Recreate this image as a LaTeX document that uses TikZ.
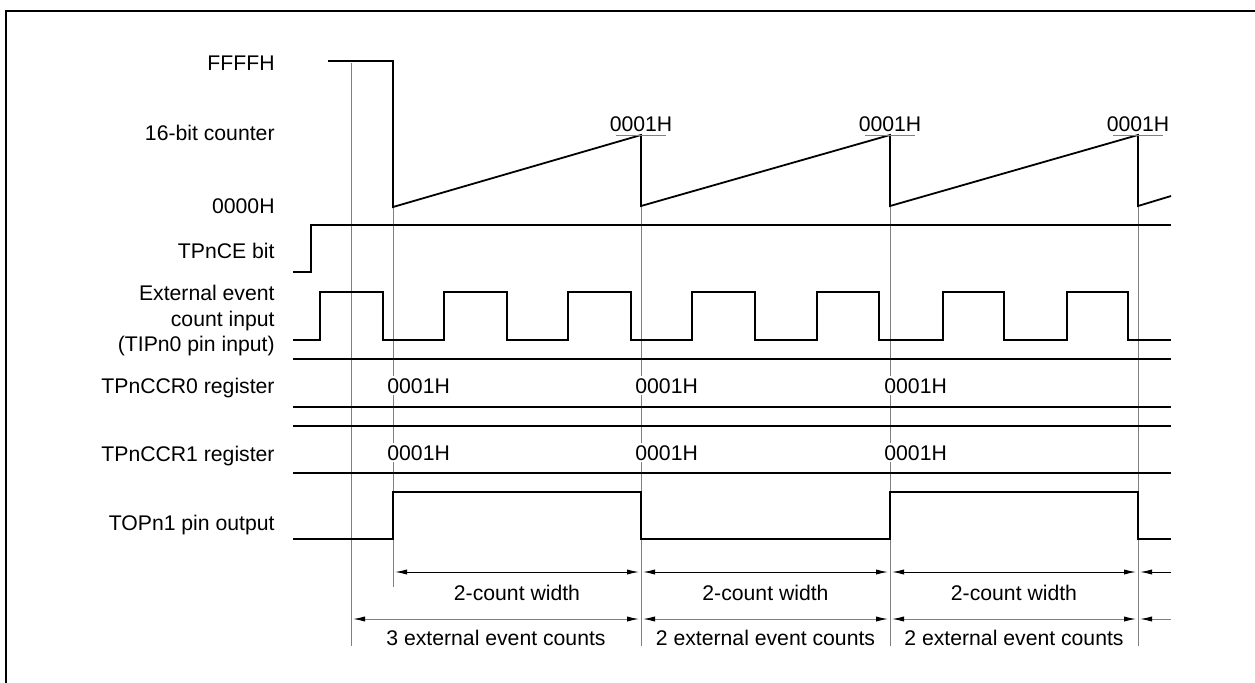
\documentclass[tikz,border=0pt]{standalone}
\usepackage{fontspec}
\setmainfont{Liberation Sans}
\usetikzlibrary{arrows.meta}
\begin{document}
\begin{tikzpicture}[x=0.5pt,y=-0.5pt,
  font=\fontsize{10.6}{12.75}\selectfont,
  sig/.style={line width=0.9pt},
  guide/.style={black!50,line width=0.5pt},
  lbl/.style={anchor=base east,inner sep=0pt},
  val/.style={anchor=base west,fill=white,inner sep=1pt},
  dim/.style={line width=0.5pt,{Latex[length=6pt,width=2.6pt,black]}-{Latex[length=6pt,width=2.6pt,black]}}]
\clip (0,0) rectangle (1255,682);
% frame
\draw[line width=1pt] (6,700) |- (1270,11);

% signal names
\node[lbl] (ffff) at (275,70) {FFFFH};
\node[lbl] (cnt) at (275,140) {16-bit counter};
\node[lbl] (zero) at (275,213) {0000H};
\node[lbl] (tpnce) at (275,258) {TPnCE bit};
\node[anchor=east,align=right,inner sep=0pt] (tipn) at (275,321)
  {External event\hspace{3.5pt}\\count input\\(TIPn0 pin input)};
\node[lbl] (ccr0) at (275,393) {TPnCCR0 register};
\node[lbl] (ccr1) at (275,461) {TPnCCR1 register};
\node[lbl] (topn) at (275,530) {TOPn1 pin output};

% timing guides
\draw[guide] (351,63) -- (351,646);
\draw[guide] (393,207) -- (393,587);
\foreach \x in {641,890,1138}
  \draw[guide] (\x,206) -- (\x,646);

% 16-bit counter
\draw[sig] (328,61) -- (393,61) -- (393,207) -- (641,135) -- (641,206)
  -- (890,135) -- (890,206) -- (1138,135) -- (1138,206) -- (1171,196);
\foreach \x/\n in {641/a,890/b,1138/c}{
  \node[anchor=base,inner sep=0pt] (peak\n) at (\x,131) {0001H};
  \draw[guide] (\x-25,135) -- (\x+25,135);
}

% TPnCE bit
\draw[sig] (293,272) -- (311,272) -- (311,225) -- (1171,225);

% external event input
\draw[sig] (293,340)
  \foreach \r/\f in {320/383,444/507,568/631,692/755,817/879,943/1004,1067/1128}{
    -- (\r,340) -- (\r,292) -- (\f,292) -- (\f,340)}
  -- (1171,340);

% registers
\foreach \y in {359,407,426,473}
  \draw[sig] (293,\y) -- (1171,\y);
\foreach \x/\n in {393/a,641/b,890/c}{
  \node[val] (r0\n) at (\x-8,393) {0001H};
  \node[val] (r1\n) at (\x-8,460) {0001H};
}

% TOPn1 output
\draw[sig] (293,539) -- (393,539) -- (393,492) -- (641,492) -- (641,539)
  -- (890,539) -- (890,492) -- (1138,492) -- (1138,539) -- (1171,539);

% widths
\foreach \a/\b/\n in {393/641/a,641/890/b,890/1138/c}{
  \draw[dim] (\a+2,572) -- (\b-2,572);
  \node[anchor=base,inner sep=0pt] (w\n) at ({(\a+\b)/2},600) {2-count width};
}
\draw[line width=0.5pt,{Latex[length=6pt,width=2.6pt,black]}-] (1140,572) -- (1171,572);
\foreach \a/\b/\n/\k in {351/641/a/3,641/890/b/2,890/1138/c/2}{
  \draw[dim,black!50] (\a+2,619) -- (\b-2,619);
  \node[anchor=base,inner sep=0pt] (e\n) at ({(\a+\b)/2},645) {\k{} external event counts};
}
\draw[black!50,line width=0.5pt,{Latex[length=6pt,width=2.6pt,black]}-] (1140,619) -- (1171,619);
\end{tikzpicture}
\end{document}
